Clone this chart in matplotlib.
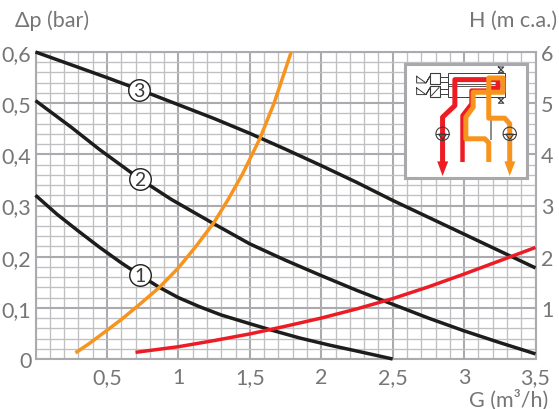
import numpy as np
import matplotlib
matplotlib.use("Agg")
import matplotlib.pyplot as plt
from matplotlib.patches import Rectangle, Circle, Polygon

plt.rcParams['font.family'] = ['Lato', 'DejaVu Sans']

# curves
curve3_x = [0, 0.25, 0.5, 0.75, 1, 1.25, 1.5, 1.75, 2, 2.25, 2.5, 2.75, 3, 3.25, 3.5]
curve3_y = [0.6, 0.575, 0.55, 0.524, 0.497, 0.47, 0.441, 0.41, 0.378, 0.345, 0.31, 0.277, 0.244, 0.211, 0.178]
curve2_x = [0, 0.25, 0.45, 0.73, 0.95, 1.25, 1.5, 1.75, 2, 2.25, 2.5, 2.75, 3, 3.25, 3.5]
curve2_y = [0.505, 0.453, 0.409, 0.352, 0.312, 0.264, 0.225, 0.193, 0.163, 0.134, 0.107, 0.08, 0.055, 0.032, 0.01]
curve1_x = [0, 0.15, 0.3, 0.45, 0.6, 0.73, 0.867, 1, 1.15, 1.3, 1.5, 1.645, 1.85, 2.06, 2.25, 2.5]
curve1_y = [0.32, 0.283, 0.25, 0.218, 0.188, 0.164, 0.14, 0.12, 0.102, 0.086, 0.069, 0.057, 0.041, 0.027, 0.0155, 0.0]
orange_x = [0.28, 0.37, 0.45, 0.6, 0.73, 0.867, 1, 1.12, 1.25, 1.35, 1.45, 1.571, 1.67, 1.79]
orange_y = [0.012, 0.029, 0.0455, 0.077, 0.107, 0.14, 0.178, 0.219, 0.267, 0.3125, 0.362, 0.431, 0.5, 0.6]
red_x = [0.7, 1, 1.25, 1.5, 1.75, 2, 2.25, 2.5, 2.75, 3, 3.25, 3.5]
red_y = [0.013, 0.024, 0.036, 0.049, 0.064, 0.08, 0.098, 0.118, 0.141, 0.166, 0.192, 0.218]

x_ticks = [0, 0.5, 1, 1.5, 2, 2.5, 3, 3.5]
x_labels = ['', '0,5', '1', '1,5', '2', '2,5', '3', '3,5']
y_ticks = [0, 0.1, 0.2, 0.3, 0.4, 0.5, 0.6]
y_labels = ['0', '0,1', '0,2', '0,3', '0,4', '0,5', '0,6']
h_ticks = [1, 2, 3, 4, 5, 6]

TEXT = '#767678'

fig = plt.figure(figsize=(5.59, 4.10), dpi=100)
ax = fig.add_axes([35.5 / 559, 50 / 410, 500 / 559, 307 / 410])
ax.set_xlim(0, 3.5)
ax.set_ylim(0, 0.6)

# grid
ax.set_xticks(np.arange(0, 3.51, 0.1), minor=True)
ax.set_yticks(np.arange(0, 0.601, 0.02), minor=True)
ax.grid(which='minor', color='#c0c0c3', lw=0.95)
ax.grid(which='major', color='#ababaf', lw=1.5)
ax.set_axisbelow(True)
ax.tick_params(which='both', length=0)
for s in ax.spines.values():
    s.set_color('#ababaf')
    s.set_linewidth(1.5)

ax.set_xticks(x_ticks)
ax.set_xticklabels(x_labels, fontsize=15.5, color=TEXT)
ax.set_yticks(y_ticks)
ax.set_yticklabels(y_labels, fontsize=15.5, color=TEXT)
ax.tick_params(axis='x', pad=6)
ax.tick_params(axis='y', pad=3)

ax2 = ax.twinx()
ax2.set_ylim(0, 6)
ax2.set_yticks(h_ticks)
ax2.set_yticklabels([str(h) for h in h_ticks], fontsize=15.5, color=TEXT)
ax2.tick_params(length=0, pad=4)
for s in ax2.spines.values():
    s.set_visible(False)

# curves
for cx, cy in [(curve3_x, curve3_y), (curve2_x, curve2_y), (curve1_x, curve1_y)]:
    ax.plot(cx, cy, color='#1d1d1b', lw=2.5, solid_capstyle='butt', clip_on=False, zorder=3)
ax.plot(orange_x, orange_y, color='#f7941d', lw=2.5, solid_capstyle='butt', zorder=4)
ax.plot(red_x, red_y, color='#ed1c24', lw=2.5, solid_capstyle='butt', zorder=4)

# curve number markers
for lab, mx, my in [('3', 0.726, 0.525), ('2', 0.73, 0.352), ('1', 0.73, 0.164)]:
    ax.plot([mx], [my], 'o', ms=15.5, mfc='white', mec='#1d1d1b', mew=1.0, zorder=5)
    ax.text(mx, my - 0.001, lab, ha='center', va='center', fontsize=14, color='#3c3c3c', zorder=6)

fig.text(15 / 559, 1 - 21 / 410, '\u0394p (bar)', ha='left', va='center', fontsize=15.5, color=TEXT)
fig.text(557 / 559, 1 - 21 / 410, 'H (m c.a.)', ha='right', va='center', fontsize=15.5, color=TEXT)
fig.text(548 / 559, 1 - 400 / 410, 'G (m\u00b3/h)', ha='right', va='center', fontsize=15.5, color=TEXT)

# circuit diagram, coordinates in its own little frame
ins = fig.add_axes([405 / 559, 1 - 179 / 410, 122 / 559, 114 / 410], zorder=10)
ins.set_xlim(45, 412)
ins.set_ylim(388, 45)
ins.set_xticks([])
ins.set_yticks([])
for s in ins.spines.values():
    s.set_color('#a9a9ad')
    s.set_linewidth(2.2)

DARK = '#3c3c3c'
ins.add_patch(Rectangle((175, 73), 170, 70, fc='white', ec=DARK, lw=0.7))
ins.plot([175, 345], [104, 104], color=DARK, lw=0.6)
ins.plot([175, 345], [112, 112], color=DARK, lw=0.6)
for vy, by in [(92, 72), (127, 112)]:
    ins.add_patch(Rectangle((120, by), 30, 32, fc='white', ec=DARK, lw=0.8))
    ins.add_patch(Rectangle((150, vy - 7), 25, 14, fc='white', ec=DARK, lw=0.7))
    ins.plot([80, 108, 80, 80], [vy - 10, vy + 10, vy + 10, vy - 10], color=DARK, lw=0.7)
    ins.plot([120, 108, 108, 120, 120], [vy - 10, vy + 10, vy + 10, vy - 10, vy - 10], color=DARK, lw=0.7)
ins.plot([125, 147], [140, 116], color=DARK, lw=0.7)
for vy in [62, 155]:
    ins.plot([326, 342, 326, 342, 326], [vy - 8, vy + 8, vy + 8, vy - 8, vy - 8], color=DARK, lw=0.8)
ins.plot([303, 303], [210, 272], color='#8c8c8c', lw=1.4)

RED = '#ed1c24'
ORANGE = '#f7941d'
ins.plot([158, 158, 195, 195, 325, 325, 300], [345, 205, 170, 92, 92, 118, 118],
         color=RED, lw=3.6, solid_joinstyle='round', solid_capstyle='butt')
ins.plot([218, 218, 245, 245, 300], [340, 200, 165, 125, 125],
         color=RED, lw=3.2, solid_joinstyle='round', solid_capstyle='butt')
ins.plot([297, 297, 285, 228, 228, 250, 250, 340, 340, 297, 297, 345, 360, 360],
         [340, 282, 270, 270, 205, 175, 130, 130, 87, 87, 208, 208, 225, 345],
         color=ORANGE, lw=3.6, solid_joinstyle='round', solid_capstyle='butt')
ins.add_patch(Polygon([[142, 338], [175, 338], [158, 382]], fc=RED, ec='none'))
ins.add_patch(Polygon([[344, 338], [377, 338], [360, 382]], fc=ORANGE, ec='none'))
for px in [158, 360]:
    ins.add_patch(Circle((px, 255), 20, fc='none', ec=DARK, lw=0.8, zorder=5))
    ins.add_patch(Polygon([[px - 12, 256], [px + 12, 256], [px, 272]], fc='none', ec=DARK, lw=0.8, zorder=5))
    ins.plot([px - 20, px + 20], [255, 255], color=DARK, lw=0.8, zorder=5)

fig.savefig('out.png', dpi=100)
